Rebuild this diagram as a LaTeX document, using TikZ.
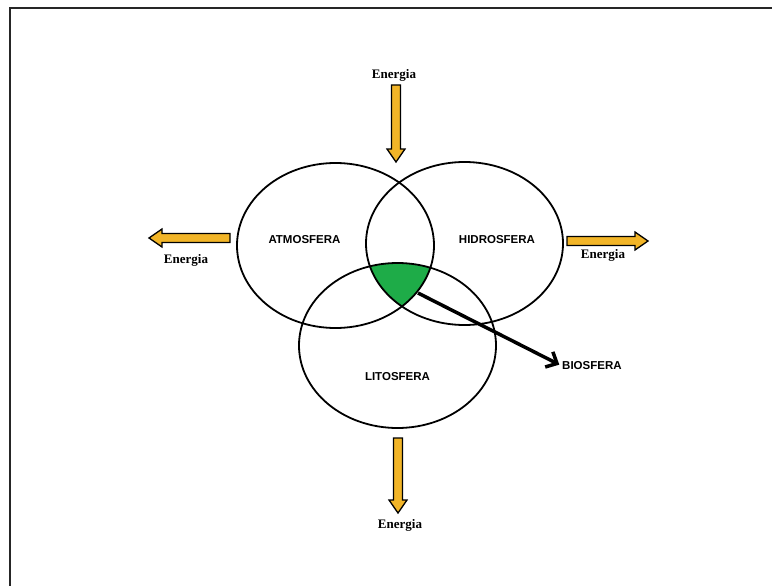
\documentclass[tikz,border=0pt]{standalone}
\usepackage{fontspec}
\setmainfont{Liberation Serif}
\newfontfamily\labelsans{Liberation Sans}
\usetikzlibrary{shapes.geometric,arrows.meta}
\definecolor{energyfill}{RGB}{242,181,40}
\definecolor{biogreen}{RGB}{30,172,72}
\tikzset{
  sphere/.style={ellipse, draw=black, line width=1.8pt, inner sep=0pt,
    minimum width=197pt, minimum height=165pt},
  spherelabel/.style={font=\labelsans\bfseries\fontsize{11.5}{13}\selectfont, inner sep=0pt},
  energylabel/.style={font=\bfseries\fontsize{13}{15}\selectfont, inner sep=0pt},
  arrowbody/.style={draw=black, line width=1.3pt, fill=energyfill, line join=miter},
  pics/energyarrow/.style={code={
    \draw[arrowbody] (0,-4.5) -- ({#1-13},-4.5) -- ({#1-13},-9) -- (#1,0)
      -- ({#1-13},9) -- ({#1-13},4.5) -- (0,4.5) -- cycle;}},
  bioarrow/.style={line width=3.5pt, -{Straight Barb[length=9pt,width=17pt]}, shorten >=3pt},
}
\begin{document}
\begin{tikzpicture}[x=1pt,y=-1pt]
\useasboundingbox (0,0) rectangle (772,586);
% frame
\draw[line width=1.8pt, black!85] (10,586) -- (10,8) -- (772,8);
% green intersection
\begin{scope}
  \clip (335.5,245.5) ellipse [x radius=98.5pt, y radius=82.5pt];
  \clip (464.5,243.5) ellipse [x radius=98.5pt, y radius=81.5pt];
  \fill[biogreen] (397.5,345.5) ellipse [x radius=98.5pt, y radius=82.5pt];
\end{scope}
% spheres
\node[sphere] (atm) at (335.5,245.5) {};
\node[sphere, minimum height=163pt] (hid) at (464.5,243.5) {};
\node[sphere] (lit) at (397.5,345.5) {};
% labels
\node[spherelabel] (atmL) at (304.5,239.5) {ATMOSFERA};
\node[spherelabel] (hidL) at (497,239.5) {HIDROSFERA};
\node[spherelabel] (litL) at (397.5,376.5) {LITOSFERA};
\node[spherelabel, anchor=west] (bio) at (562,366) {BIOSFERA};
% biosfera arrow
\coordinate (core) at (418,293);
\draw[bioarrow] (core) -- (bio.west);
% energy arrows
\pic[rotate=-90] at (396,85) {energyarrow=77};
\pic[rotate=180] at (230,238) {energyarrow=81};
\pic at (567,241) {energyarrow=81};
\pic[rotate=-90] at (398,438) {energyarrow=75};
% energy labels
\node[energylabel] (eTop) at (394,75) {Energia};
\node[energylabel] (eLeft) at (186,260) {Energia};
\node[energylabel] (eRight) at (603,255) {Energia};
\node[energylabel] (eBot) at (400,525) {Energia};
\end{tikzpicture}
\end{document}
